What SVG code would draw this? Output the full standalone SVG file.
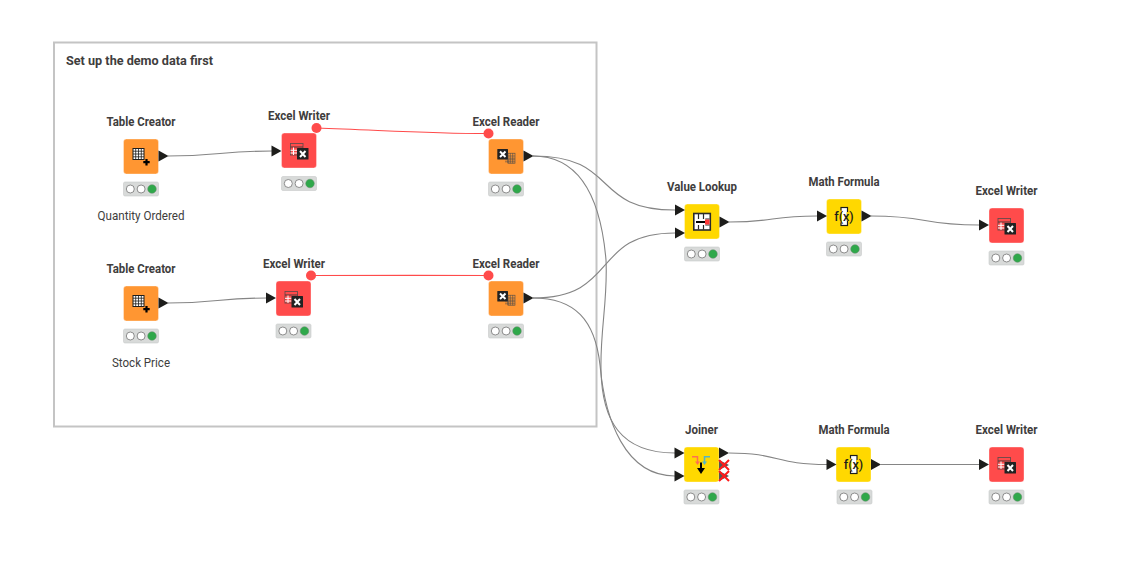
<svg xmlns="http://www.w3.org/2000/svg" xmlns:xlink="http://www.w3.org/1999/xlink" width="1123" height="575" viewBox="0 0 1123 575">
<style>
text{font-family:"Roboto","Liberation Sans",sans-serif;fill:#403d3d}
.t{font-size:13px;font-weight:700;text-anchor:middle}
.c{font-size:13px;text-anchor:middle}
.w{fill:none;stroke:#858585;stroke-width:1.100}
.r{fill:none;stroke:#ff4b4b;stroke-width:1.100}
.b{stroke:#fff;stroke-opacity:.35;stroke-width:1}
.o{fill:#ff9632}.x{fill:#ff4b4b}.y{fill:#ffd800}
.p{fill:#1d1d1b}
</style>
<defs>
<g id="status"><rect width="35" height="14" rx="1.500" fill="#d8dad9" stroke="#c8cac9" stroke-width=".6"/><circle cx="6.800" cy="7" r="4" fill="#fff" stroke="#808080" stroke-width=".9"/><circle cx="17.600" cy="7" r="4" fill="#fff" stroke="#808080" stroke-width=".9"/><circle cx="28.500" cy="7" r="4.300" fill="#2fa84a" stroke="#6a8a70" stroke-width=".5"/></g>
<polygon id="tri" points="0,-5.500 10,0 0,5.500" class="p"/>
<g id="grid"><rect width="11" height="11" fill="#fff" stroke="#1d1d1b" stroke-width="1"/><path d="M0 2.700H11M0 5.500H11M0 8.300H11M2.700 0V11M5.500 0V11M8.300 0V11" stroke="#1d1d1b" stroke-width=".8"/></g>
<g id="i-create"><use xlink:href="#grid" x="9.500" y="9.500"/><path d="M23 20V26.500M19.800 23.200H26.200" stroke="#000" stroke-width="2.200"/></g>
<g id="i-write"><rect x="9" y="10.500" width="12.500" height="11.500" fill="#ff4b4b" stroke="#6a4a4a" stroke-width=".9"/><path d="M9 14H21.500" stroke="#4a3a3a" stroke-width="1"/><path d="M9 17.300H15.500M9 20H15.500M12 14.500V22" stroke="#fff" stroke-width="1"/><rect x="15.500" y="15" width="11.500" height="11.500" rx=".5" fill="#222"/><path d="M18.500 18L24 24M24 18L18.500 24" stroke="#fff" stroke-width="2"/></g>
<g id="i-read"><rect x="8.800" y="10" width="10.700" height="10.500" rx=".5" fill="#222"/><path d="M11.500 12.500L17 18M17 12.500L11.500 18" stroke="#fff" stroke-width="2"/><rect x="19.500" y="14.200" width="7" height="10" fill="#ff9632" stroke="#4a4a4a" stroke-width=".6"/><path d="M16.500 20.800H26.500M16.500 22.800H26.500M19.500 20.500V24.200M21.800 14.200V24.200M24.200 14.200V24.200M19.500 17H26.500M19.500 19.200H26.500" stroke="#4a4a4a" stroke-width=".6"/></g>
<g id="i-lookup"><rect x="9.300" y="9.500" width="16.500" height="16.500" fill="#fff" stroke="#2a2a2a" stroke-width="1.600"/><path d="M14 10V15M14 21V25.500M19 10V15M19 21V25.500M20.800 15H25M20.800 21H25" stroke="#2a2a2a" stroke-width="1.200"/><path d="M11.500 18H21" stroke="#000" stroke-width="2"/><rect x="20.500" y="15.500" width="4.500" height="5" fill="#ff3a3a"/></g>
<g id="i-math"><rect x="14.500" y="8.500" width="6.500" height="18" fill="#fff" stroke="#1d1d1b" stroke-width="1.200"/><rect x="13" y="11.500" width="2.500" height="12" fill="#ffd800"/><rect x="20.200" y="13" width="2" height="9" fill="#ffd800"/><text x="17.500" y="21.500" style="font-size:12.500px;font-weight:500;text-anchor:middle;fill:#1d1d1b">f(x)</text></g>
<g id="i-join"><path d="M8 9.800H13.500V15" fill="none" stroke="#ff7050" stroke-width="1.500"/><path d="M11 14.500L13.500 18L16 14.500Z" fill="#ff7050"/><path d="M26 9.800H20.500V15" fill="none" stroke="#55b5c5" stroke-width="1.500"/><path d="M18 14.500L20.500 18L23 14.500Z" fill="#55b5c5"/><path d="M17 15.500V23" stroke="#000" stroke-width="2"/><path d="M13 21H21L17 27Z" fill="#000"/></g>
</defs>

<g id="annotation"><rect x="54" y="42.500" width="542.500" height="384" fill="#fff" stroke="#c4c4c4" stroke-width="2"/><text class="t" x="66" y="65" style="text-anchor:start" textLength="147" lengthAdjust="spacingAndGlyphs">Set up the demo data first</text></g>

<g id="connectors">
<path class="w" d="M168 156C215 156 225 151 272 151"/>
<path class="w" d="M168 303C215 303 220 298 267 298"/>
<path class="r" d="M316.500 128C380 130 425 133.500 488.500 133.500"/>
<path class="r" d="M311 275.500C380 275 425 275.500 488.500 275.500"/>
<path class="w" d="M533 156C620 156 590 210 675 210"/>
<path class="w" d="M533 156C575 156 600 190 606 260C608 300 600 330 601 370C602 420 620 453 675 453"/>
<path class="w" d="M533 298C620 298 590 233 675 233"/>
<path class="w" d="M533 298C575 298 595 320 600 365C605 420 625 476 675 476"/>
<path class="w" d="M729 222C775 222 770 216 817 216"/>
<path class="w" d="M871 216C930 216 920 225 979 225"/>
<path class="w" d="M729 453C780 453 775 464.500 827 464.500"/>
<path class="w" d="M881 464.500H980"/>
</g>

<g id="n1"><text class="t" x="141" y="126" textLength="69" lengthAdjust="spacingAndGlyphs">Table Creator</text><rect class="o b" x="123.500" y="139" width="35" height="35" rx="3"/><use xlink:href="#i-create" x="123.500" y="139"/><use xlink:href="#tri" x="158.500" y="156"/><use xlink:href="#status" x="123.500" y="182"/><text class="c" x="141" y="220" textLength="87" lengthAdjust="spacingAndGlyphs">Quantity Ordered</text></g>
<g id="n2"><text class="t" x="299" y="120" textLength="62" lengthAdjust="spacingAndGlyphs">Excel Writer</text><rect class="x b" x="281.500" y="133" width="35" height="35" rx="3"/><use xlink:href="#i-write" x="281.500" y="133"/><use xlink:href="#tri" x="271.500" y="151"/><circle cx="316.500" cy="128" r="5" fill="#ff4b4b"/><use xlink:href="#status" x="281.500" y="176.500"/></g>
<g id="n3"><text class="t" x="506" y="126" textLength="67" lengthAdjust="spacingAndGlyphs">Excel Reader</text><rect class="o b" x="488.500" y="139" width="35" height="35" rx="3"/><use xlink:href="#i-read" x="488.500" y="139"/><use xlink:href="#tri" x="523.500" y="156"/><circle cx="488.500" cy="133.500" r="5" fill="#ff4b4b"/><use xlink:href="#status" x="488.500" y="182"/></g>
<g id="n4"><text class="t" x="141" y="273" textLength="69" lengthAdjust="spacingAndGlyphs">Table Creator</text><rect class="o b" x="123.500" y="286" width="35" height="35" rx="3"/><use xlink:href="#i-create" x="123.500" y="286"/><use xlink:href="#tri" x="158.500" y="303"/><use xlink:href="#status" x="123.500" y="329"/><text class="c" x="141" y="367" textLength="58" lengthAdjust="spacingAndGlyphs">Stock Price</text></g>
<g id="n5"><text class="t" x="294" y="268" textLength="62" lengthAdjust="spacingAndGlyphs">Excel Writer</text><rect class="x b" x="276" y="281" width="35" height="35" rx="3"/><use xlink:href="#i-write" x="276" y="281"/><use xlink:href="#tri" x="266" y="298"/><circle cx="311" cy="275.500" r="5" fill="#ff4b4b"/><use xlink:href="#status" x="276" y="324"/></g>
<g id="n6"><text class="t" x="506" y="268" textLength="67" lengthAdjust="spacingAndGlyphs">Excel Reader</text><rect class="o b" x="488.500" y="281" width="35" height="35" rx="3"/><use xlink:href="#i-read" x="488.500" y="281"/><use xlink:href="#tri" x="523.500" y="298"/><circle cx="488.500" cy="275.500" r="5" fill="#ff4b4b"/><use xlink:href="#status" x="488.500" y="324"/></g>
<g id="n7"><text class="t" x="702" y="191" textLength="70" lengthAdjust="spacingAndGlyphs">Value Lookup</text><rect class="y b" x="684.500" y="204" width="35" height="35" rx="3"/><use xlink:href="#i-lookup" x="684.500" y="204"/><use xlink:href="#tri" x="675" y="210"/><use xlink:href="#tri" x="675" y="233"/><use xlink:href="#tri" x="719.500" y="222"/><use xlink:href="#status" x="684.500" y="247"/></g>
<g id="n8"><text class="t" x="844" y="186" textLength="71" lengthAdjust="spacingAndGlyphs">Math Formula</text><rect class="y b" x="826.500" y="199" width="35" height="35" rx="3"/><use xlink:href="#i-math" x="826.500" y="199"/><use xlink:href="#tri" x="817" y="216"/><use xlink:href="#tri" x="861.500" y="216"/><use xlink:href="#status" x="826.500" y="242"/></g>
<g id="n9"><text class="t" x="1006.500" y="195" textLength="62" lengthAdjust="spacingAndGlyphs">Excel Writer</text><rect class="x b" x="989" y="208" width="35" height="35" rx="3"/><use xlink:href="#i-write" x="989" y="208"/><use xlink:href="#tri" x="979" y="225"/><use xlink:href="#status" x="989" y="251"/></g>
<g id="n10"><text class="t" x="701.500" y="434" textLength="33" lengthAdjust="spacingAndGlyphs">Joiner</text><rect class="y b" x="684" y="447" width="35" height="35" rx="3"/><use xlink:href="#i-join" x="684" y="447"/><use xlink:href="#tri" x="674.500" y="453"/><use xlink:href="#tri" x="674.500" y="476"/><use xlink:href="#tri" x="719" y="453"/><g><polygon points="719,460 729,465 719,470" fill="#555"/><polygon points="719,471 729,476 719,481" fill="#555"/><path d="M719 460L729 470M729 460L719 470M719 471L729 481M729 471L719 481" stroke="#ff1a1a" stroke-width="2"/></g><use xlink:href="#status" x="684" y="490"/></g>
<g id="n11"><text class="t" x="854" y="434" textLength="71" lengthAdjust="spacingAndGlyphs">Math Formula</text><rect class="y b" x="836" y="447" width="35" height="35" rx="3"/><use xlink:href="#i-math" x="836" y="447"/><use xlink:href="#tri" x="826.500" y="464.500"/><use xlink:href="#tri" x="871" y="464.500"/><use xlink:href="#status" x="837" y="490"/></g>
<g id="n12"><text class="t" x="1006.500" y="434" textLength="62" lengthAdjust="spacingAndGlyphs">Excel Writer</text><rect class="x b" x="989" y="447" width="35" height="35" rx="3"/><use xlink:href="#i-write" x="989" y="447"/><use xlink:href="#tri" x="979" y="464.500"/><use xlink:href="#status" x="989" y="490"/></g>
</svg>
